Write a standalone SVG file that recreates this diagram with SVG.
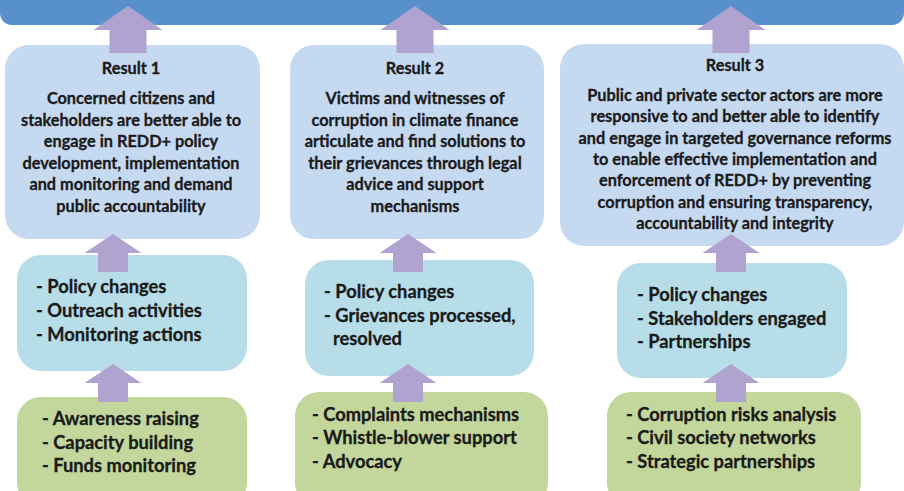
<svg xmlns="http://www.w3.org/2000/svg" width="904" height="491" viewBox="0 0 904 491">
<style>
text{font-family:Lato,"Liberation Sans",sans-serif;font-weight:bold;fill:#1a1a1a;stroke:#1a1a1a;stroke-width:0.3px}
.r{font-size:16.3px;text-anchor:middle}
.l{font-size:18.3px}
.res{fill:#c5d9f1}
.out{fill:#b7dee8}
.act{fill:#c3d69b}
.ar{fill:#b1a3cf}
</style>
<defs>
<path id="bigArrow" d="M0,0 L34.5,24 L18.5,24 L18.5,47 L-18.5,47 L-18.5,24 L-34.5,24 Z"/>
<path id="smallArrow" d="M0,0 L28.5,19 L15,19 L15,38 L-15,38 L-15,19 L-28.5,19 Z"/>
</defs>
<g id="goal"><rect x="0" y="-20" width="904" height="45" rx="12" fill="#588fcd"/></g>
<g id="result1"><rect class="res" x="5" y="45" width="255" height="194" rx="24"/>
<text class="r" x="131" y="74">Result 1</text>
<text class="r" x="131" y="104">Concerned citizens and</text>
<text class="r" x="131" y="125.5">stakeholders are better able to</text>
<text class="r" x="131" y="147">engage in REDD+ policy</text>
<text class="r" x="131" y="168.5">development, implementation</text>
<text class="r" x="131" y="190">and monitoring and demand</text>
<text class="r" x="131" y="211.5">public accountability</text></g>
<g id="result2"><rect class="res" x="290" y="45" width="254" height="194" rx="24"/>
<text class="r" x="415" y="74">Result 2</text>
<text class="r" x="415" y="104">Victims and witnesses of</text>
<text class="r" x="415" y="125.5">corruption in climate finance</text>
<text class="r" x="415" y="147">articulate and find solutions to</text>
<text class="r" x="415" y="168.5">their grievances through legal</text>
<text class="r" x="415" y="190">advice and support</text>
<text class="r" x="415" y="211.5">mechanisms</text></g>
<g id="result3"><rect class="res" x="560" y="44" width="344" height="202" rx="24"/>
<text class="r" x="735" y="71">Result 3</text>
<text class="r" x="735" y="101">Public and private sector actors are more</text>
<text class="r" x="735" y="122.3">responsive to and better able to identify</text>
<text class="r" x="735" y="143.6">and engage in targeted governance reforms</text>
<text class="r" x="735" y="164.9">to enable effective implementation and</text>
<text class="r" x="735" y="186.2">enforcement of REDD+ by preventing</text>
<text class="r" x="735" y="207.5">corruption and ensuring transparency,</text>
<text class="r" x="735" y="228.8">accountability and integrity</text></g>
<g id="outcome1"><rect class="out" x="17" y="255" width="230" height="116" rx="24"/>
<text class="l" x="36" y="293">- Policy changes</text>
<text class="l" x="36" y="317">- Outreach activities</text>
<text class="l" x="36" y="341">- Monitoring actions</text></g>
<g id="outcome2"><rect class="out" x="305" y="260" width="229" height="116" rx="24"/>
<text class="l" x="324" y="298">- Policy changes</text>
<text class="l" x="324" y="322">- Grievances processed,</text>
<text class="l" x="333" y="345">resolved</text></g>
<g id="outcome3"><rect class="out" x="617" y="263" width="230" height="115" rx="24"/>
<text class="l" x="637" y="301">- Policy changes</text>
<text class="l" x="637" y="325">- Stakeholders engaged</text>
<text class="l" x="637" y="348">- Partnerships</text></g>
<g id="activity1"><rect class="act" x="17" y="397" width="230" height="110" rx="24"/>
<text class="l" x="42" y="425">- Awareness raising</text>
<text class="l" x="42" y="449">- Capacity building</text>
<text class="l" x="42" y="472">- Funds monitoring</text></g>
<g id="activity2"><rect class="act" x="295" y="392" width="253" height="115" rx="24"/>
<text class="l" x="312" y="421">- Complaints mechanisms</text>
<text class="l" x="312" y="444">- Whistle-blower support</text>
<text class="l" x="312" y="468">- Advocacy</text></g>
<g id="activity3"><rect class="act" x="607" y="392" width="254" height="115" rx="24"/>
<text class="l" x="626" y="421">- Corruption risks analysis</text>
<text class="l" x="626" y="444">- Civil society networks</text>
<text class="l" x="626" y="468">- Strategic partnerships</text></g>
<g id="connectors" class="ar">
<use href="#bigArrow" x="128" y="6"/>
<use href="#bigArrow" x="415" y="6"/>
<use href="#bigArrow" x="731" y="6"/>
<use href="#smallArrow" x="113" y="234"/>
<use href="#smallArrow" x="408" y="234"/>
<use href="#smallArrow" x="731" y="234"/>
<use href="#smallArrow" x="113" y="364"/>
<use href="#smallArrow" x="408" y="364"/>
<use href="#smallArrow" x="731" y="364"/>
</g>
</svg>
